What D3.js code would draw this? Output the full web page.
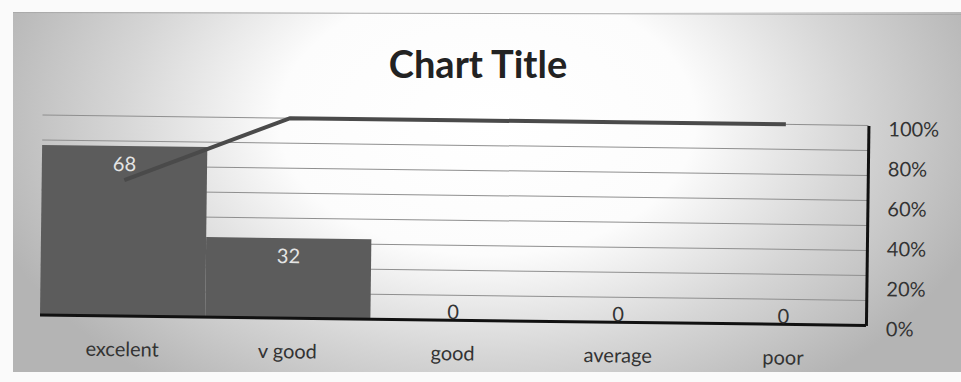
<!DOCTYPE html>
<html><head><meta charset="utf-8">
<script src="https://cdn.jsdelivr.net/npm/d3@7"></script>
<style>html,body{margin:0;padding:0;background:#fafafa;}svg{display:block;}</style>
</head><body>
<script>
const categories = ["excelent", "v good", "good", "average", "poor"];
const counts = [68, 32, 0, 0, 0];
const cumulativePct = [0.68, 1.0, 1.0, 1.0, 1.0];
const primaryTicks = [10, 20, 30, 40, 50, 60, 70, 80];
const pctTicks = [0, 0.2, 0.4, 0.6, 0.8, 1.0];
const titleText = "Chart Title";

const W = 961, H = 382;
const svg = d3.select("body").append("svg").attr("width", W).attr("height", H);
const defs = svg.append("defs");
const g1 = defs.append("radialGradient").attr("id","bg").attr("cx","50%").attr("cy","30%").attr("r","55%")
  .attr("gradientTransform","translate(0.5,0.3) scale(1,1.7) translate(-0.5,-0.3)");
g1.append("stop").attr("offset","0%").attr("stop-color","#ffffff");
g1.append("stop").attr("offset","40%").attr("stop-color","#fcfcfc");
g1.append("stop").attr("offset","70%").attr("stop-color","#d6d6d6");
g1.append("stop").attr("offset","100%").attr("stop-color","#b4b4b4");

svg.append("rect").attr("x",13).attr("y",12).attr("width",W-13).attr("height",360).attr("fill","url(#bg)");
svg.append("line").attr("x1",13).attr("x2",W).attr("y1",12.5).attr("y2",14.5).attr("stroke","#aaa").attr("stroke-width",1);

svg.append("text").attr("x",478).attr("y",78).attr("text-anchor","middle")
  .attr("font-family","Lato, 'Open Sans', sans-serif").attr("font-weight","bold").attr("font-size",38)
  .attr("fill","#222").text(titleText);

const pLeft = 40, pRight = 866, pBase = 315, pTop = 115;
const plot = svg.append("g").attr("transform", `rotate(0.72, ${pLeft}, ${pBase})`);

const x = d3.scaleBand().domain(categories).range([pLeft, pRight]).padding(0);
const y = d3.scaleLinear().domain([0, 80]).range([pBase, pTop]);
const y2 = d3.scaleLinear().domain([0, 1]).range([pBase, pTop]);

// gridlines
plot.append("g").selectAll("line").data(primaryTicks).join("line")
  .attr("x1", pLeft).attr("x2", pRight).attr("y1", d => y(d)).attr("y2", d => y(d))
  .attr("stroke", "#8f8f8f").attr("stroke-width", 1);

// bars
plot.append("g").selectAll("rect").data(counts).join("rect")
  .attr("x", (d,i) => x(categories[i])).attr("width", x.bandwidth())
  .attr("y", d => y(d)).attr("height", d => pBase - y(d))
  .attr("fill", "#5c5c5c");

// baseline
plot.append("line").attr("x1", pLeft).attr("x2", pRight).attr("y1", pBase).attr("y2", pBase)
  .attr("stroke", "#111").attr("stroke-width", 3);

// right axis
const axR = plot.append("g").attr("transform", `translate(${pRight},0)`)
  .call(d3.axisRight(y2).tickValues(pctTicks).tickFormat(d3.format(".0%")).tickSize(0).tickPadding(20));
axR.select(".domain").attr("stroke", "#111").attr("stroke-width", 3);
axR.selectAll("text").attr("font-family","Lato, 'Open Sans', sans-serif").attr("font-size",20).attr("fill","#333")
  .attr("dy","0.5em");

// cumulative line
const line = d3.line().x((d,i) => x(categories[i]) + x.bandwidth()/2).y(d => y2(d));
plot.append("path").datum(cumulativePct).attr("d", line).attr("fill","none")
  .attr("stroke","#4a4a4a").attr("stroke-width",4).attr("stroke-linejoin","round");

// data labels
plot.append("g").selectAll("text").data(counts).join("text")
  .attr("x", (d,i) => x(categories[i]) + x.bandwidth()/2)
  .attr("y", d => d > 0 ? y(d) + 25 : pBase - 1)
  .attr("text-anchor","middle")
  .attr("font-family","Lato, 'Open Sans', sans-serif").attr("font-size",20)
  .attr("fill", d => d > 0 ? "#e4e4e4" : "#333")
  .text(d => d);

// category labels
const axB = plot.append("g").attr("transform", `translate(0,${pBase})`)
  .call(d3.axisBottom(x).tickSize(0).tickPadding(26));
axB.select(".domain").remove();
axB.selectAll("text").attr("font-family","Lato, 'Open Sans', sans-serif").attr("font-size",20).attr("fill","#333");
</script>
</body></html>
